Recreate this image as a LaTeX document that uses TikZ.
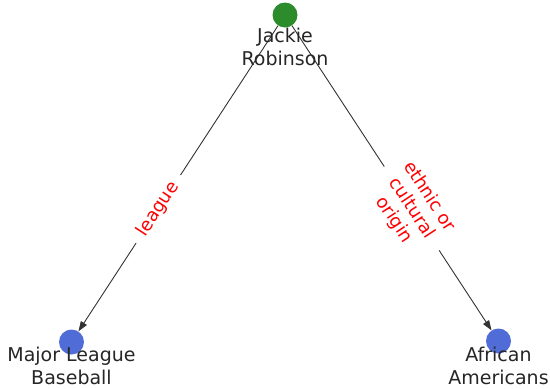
\documentclass[tikz,border=0pt]{standalone}
\usepackage{fontspec}
\setmainfont{DejaVu Sans}
\usetikzlibrary{positioning}
\usetikzlibrary{arrows.meta}
\definecolor{jrgreen}{RGB}{44,140,44}
\definecolor{jrblue}{RGB}{80,108,214}
\tikzset{entity/.style={circle, minimum size=25pt, inner sep=0pt},
        mainentity/.style={entity, fill=jrgreen},
        otherentity/.style={entity, fill=jrblue},
        entitytext/.style={align=center, inner sep=0pt, text=black!85,
          font=\fontsize{19}{23}\selectfont},
        relation/.style={draw=black!80, line width=0.9pt,
          -{Stealth[length=10pt, width=7pt, inset=0pt]}},
        relationtext/.style={sloped, pos=0.6, fill=white, text=red, align=center,
          inner xsep=10pt, inner ysep=1pt, font=\fontsize{18}{21}\selectfont},
}

\begin{document}
\begin{tikzpicture}[x=1pt, y=-1pt]
      \useasboundingbox (0,0) rectangle (550,389);
      % ENTITIES
      \node[mainentity] (jackie) at (285,15) {};
      \node[otherentity] (mlb) at (71.5,342) {};
      \node[otherentity] (africanam) at (498.5,341) {};

      % RELATIONS
      \draw[relation] (jackie) -- node[relationtext] (league) {league} (mlb);
      \draw[relation] (jackie) -- node[relationtext] (origin) {ethnic or\\cultural\\origin} (africanam);

      % LABELS on top of everything
      \node[entitytext, below=12.6pt of jackie.center] (jackie-text) {Jackie\\Robinson};
      \node[entitytext, below=4.6pt of mlb.center] (mlb-text) {Major League\\Baseball};
      \node[entitytext, below=5.6pt of africanam.center] (africanam-text) {African\\Americans};
\end{tikzpicture}
\end{document}
